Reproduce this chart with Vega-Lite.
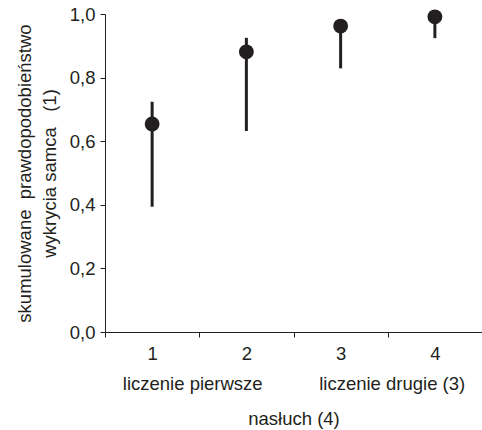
{
  "$schema": "https://vega.github.io/schema/vega-lite/v6.json",
  "autosize": "none",
  "width": 377,
  "height": 318,
  "padding": {"left": 105, "top": 14, "right": 0, "bottom": 98},
  "background": "white",
  "config": {
    "view": {"stroke": null},
    "font": "Liberation Sans",
    "axis": {
      "domainColor": "#231f20",
      "tickColor": "#231f20",
      "labelColor": "#231f20",
      "titleColor": "#231f20",
      "labelFont": "Liberation Sans",
      "titleFont": "Liberation Sans",
      "labelFontSize": 18.5,
      "titleFontSize": 18.5,
      "titleFontWeight": "normal",
      "domainWidth": 1,
      "tickWidth": 1,
      "tickSize": 5,
      "grid": false
    }
  },
  "data": {
    "values": [
      {"n": "1", "p": 0.654, "lo": 0.394, "hi": 0.724},
      {"n": "2", "p": 0.881, "lo": 0.632, "hi": 0.925},
      {"n": "3", "p": 0.962, "lo": 0.829, "hi": 0.97},
      {"n": "4", "p": 0.991, "lo": 0.924, "hi": 0.995}
    ]
  },
  "encoding": {
    "x": {
      "field": "n",
      "type": "nominal",
      "scale": {"type": "band", "paddingInner": 0, "paddingOuter": 0},
      "axis": {
        "orient": "bottom",
        "labelAngle": 0,
        "tickBand": "extent",
        "labelPadding": 7,
        "title": ["liczenie pierwsze\u00a0\u00a0\u00a0\u00a0\u00a0\u00a0\u00a0\u00a0\u00a0\u00a0\u00a0liczenie drugie (3)", "\u00a0\u00a0\u00a0nasłuch (4)"],
        "titleLineHeight": 35,
        "titleBaseline": "alphabetic",
        "titleY": 57.5,
        "titleAlign": "center"
      }
    }
  },
  "layer": [
    {
      "mark": {"type": "rule", "strokeWidth": 3, "color": "#231f20"},
      "encoding": {
        "y": {
          "field": "lo",
          "type": "quantitative",
          "scale": {"domain": [0, 1]},
          "axis": {
            "values": [0, 0.2, 0.4, 0.6, 0.8, 1],
            "labelExpr": "replace(format(datum.value, '.1f'), '.', ',')",
            "labelPadding": 5,
            "title": ["skumulowane\u00a0\u00a0prawdopodobieństwo", "wykrycia samca\u00a0\u00a0\u00a0(1)"],
            "titleLineHeight": 25,
            "titleAngle": -90,
            "titleBaseline": "alphabetic",
            "titleAlign": "center",
            "titleX": -75,
            "titleY": 159
          }
        },
        "y2": {"field": "hi"}
      }
    },
    {
      "mark": {"type": "point", "filled": true, "opacity": 1, "size": 220, "color": "#231f20", "shape": "circle"},
      "encoding": {
        "y": {"field": "p", "type": "quantitative"}
      }
    }
  ]
}
